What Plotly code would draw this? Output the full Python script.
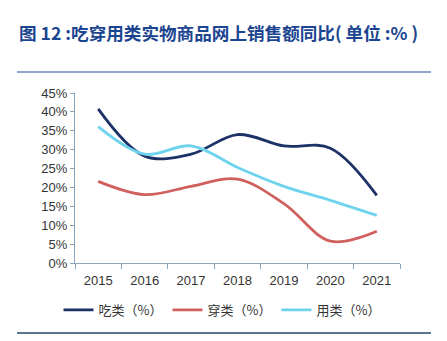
import plotly.graph_objects as go

years = ["2015", "2016", "2017", "2018", "2019", "2020", "2021"]
food = [40.8, 28.3, 28.8, 34.0, 31.0, 30.4, 17.9]
clothing = [21.6, 18.1, 20.3, 22.2, 15.7, 5.8, 8.4]
daily = [36.1, 28.8, 31.0, 25.3, 20.3, 16.6, 12.6]
names = ["吃类（%）", "穿类（%）", "用类（%）"]
colors = ["#1c3266", "#d0605e", "#6fd3ee"]
yticks = [0, 5, 10, 15, 20, 25, 30, 35, 40, 45]

W, H = 447, 341
L, R, T, B = 75, 47, 93, 78

fig = go.Figure()
for vals, nm, c in zip([food, clothing, daily], names, colors):
    fig.add_trace(go.Scatter(
        x=years, y=vals, name=nm, mode="lines",
        line=dict(color=c, width=2.8, shape="spline", smoothing=1.0),
    ))

def px_x(x):
    return (x - L) / (W - L - R)

def px_y(y):
    return (H - B - y) / (H - T - B)

fig.update_layout(
    width=W, height=H,
    margin=dict(l=L, r=R, t=T, b=B, autoexpand=False),
    paper_bgcolor="white", plot_bgcolor="white",
    font=dict(family="Noto Sans CJK SC, Liberation Sans, Arial", color="#333333", size=12),
    showlegend=True,
    legend=dict(orientation="h", x=px_x(222), xanchor="center", y=px_y(310), yanchor="middle",
                bgcolor="rgba(0,0,0,0)",
                font=dict(size=13, color="#333333"), tracegroupgap=0),
    xaxis=dict(type="category", range=[-0.5, 6.5], showline=True, linecolor="#8aa6bf",
               linewidth=1, ticks="outside", ticklen=5, tickcolor="#8aa6bf",
               tickson="boundaries", ticklabelstandoff=5,
               showgrid=False, tickfont=dict(size=13, color="#333333",
               family="Liberation Sans, Arial")),
    yaxis=dict(range=[0, 45], tickvals=yticks, ticktext=[f"{v}%" for v in yticks],
               showline=True, linecolor="#8aa6bf", linewidth=1,
               ticks="outside", ticklen=4, tickcolor="#8aa6bf",
               showgrid=False, zeroline=False,
               tickfont=dict(size=13, color="#333333", family="Liberation Sans, Arial")),
)

fig.add_annotation(
    text="<b>图 12 :吃穿用类实物商品网上销售额同比( 单位 :% )</b>",
    xref="paper", yref="paper", x=px_x(17), y=px_y(33),
    xanchor="left", yanchor="middle", showarrow=False,
    font=dict(size=17.6, color="#1b4590", family="Noto Sans CJK SC, Liberation Sans"),
)
fig.add_shape(type="line", xref="paper", yref="paper",
              x0=px_x(17), x1=px_x(431), y0=px_y(72), y1=px_y(72),
              line=dict(color="#2a4fa0", width=1.2))
fig.add_shape(type="line", xref="paper", yref="paper",
              x0=px_x(17), x1=px_x(431), y0=px_y(333), y1=px_y(333),
              line=dict(color="#5d7590", width=2))

fig.write_html("out.html")
